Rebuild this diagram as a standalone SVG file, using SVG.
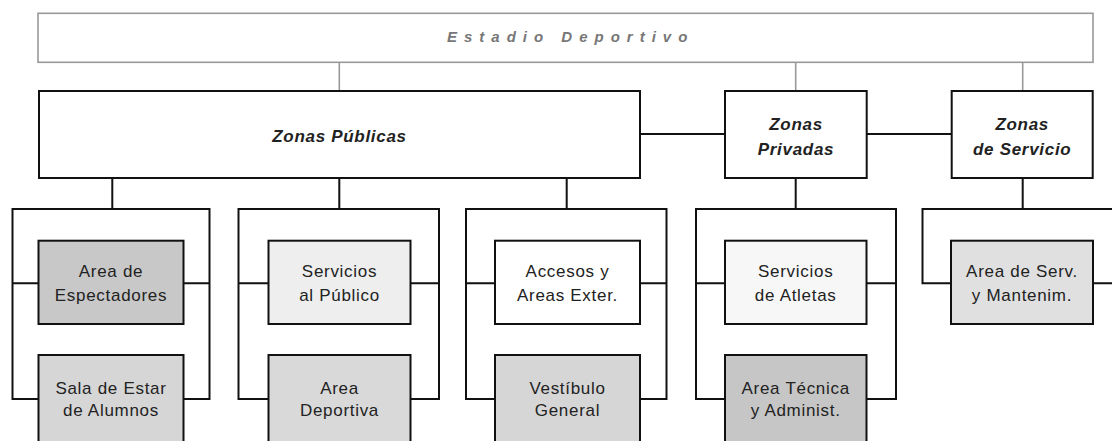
<svg xmlns="http://www.w3.org/2000/svg" width="1112" height="441" viewBox="0 0 1112 441">
<style>
.bg{fill:#ffffff}
.top{fill:#ffffff;stroke:#999999;stroke-width:1.6}
.gl{fill:none;stroke:#999999;stroke-width:1.6}
.bl{fill:none;stroke:#111111;stroke-width:2}
.zone{fill:#ffffff;stroke:#111111;stroke-width:2}
.box{stroke:#111111;stroke-width:2}
.title{font-family:"Liberation Sans",Arial,sans-serif;font-size:15px;font-weight:bold;font-style:italic;fill:#777777;letter-spacing:7px}
.zt{font-family:"Liberation Sans",Arial,sans-serif;font-size:17px;font-weight:bold;font-style:italic;fill:#222222;letter-spacing:0.7px;text-anchor:middle}
.lt{font-family:"Liberation Sans",Arial,sans-serif;font-size:17px;fill:#222222;letter-spacing:0.7px;text-anchor:middle}
</style>
<rect class="bg" x="0" y="0" width="1112" height="441"/>
<g id="connectors">
<path class="gl" d="M339.3 62.3V91M795.7 62.3V91M1022.7 62.3V91"/>
<path class="bl" d="M640 134H725M866.7 134H951.7"/>
<path class="bl" d="M112.3 178V209M339.3 178V209M566.7 178V209M795.7 178V209M1022.7 178V209"/>
<path class="bl" d="M39 283.3H12.5V209H209.5V399H183M183 283.3H209.5M39 399H12.5V283.3"/>
<path class="bl" d="M268.5 283.3H238.5V209H439V399H410.5M410.5 283.3H439M268.5 399H238.5V283.3"/>
<path class="bl" d="M495 283.3H466V209H666.5V399H640M640 283.3H666.5M495 399H466V283.3"/>
<path class="bl" d="M725 283.3H696V209H896V399H866.5M866.5 283.3H896M725 399H696V283.3"/>
<path class="bl" d="M951 283.3H922.5V209H1120M1093 283.3H1120"/>
</g>
<g id="estadio">
<rect class="top" x="38" y="13.3" width="1055" height="49"/>
<text class="title" x="447" y="41.5">Estadio Deportivo</text>
</g>
<g id="zonas-publicas">
<rect class="zone" x="39" y="91" width="601" height="87"/>
<text class="zt" x="339.5" y="141.5">Zonas Públicas</text>
</g>
<g id="zonas-privadas">
<rect class="zone" x="725" y="91" width="141.7" height="87"/>
<text class="zt" x="796" y="130">Zonas</text>
<text class="zt" x="796" y="155">Privadas</text>
</g>
<g id="zonas-servicio">
<rect class="zone" x="951.7" y="91" width="141" height="87"/>
<text class="zt" x="1022.2" y="130">Zonas</text>
<text class="zt" x="1022.2" y="155">de Servicio</text>
</g>
<g id="area-espectadores">
<rect class="box" x="38.5" y="240.7" width="145" height="83.3" fill="#c8c8c8"/>
<text class="lt" x="111" y="276.5">Area de</text>
<text class="lt" x="111" y="301">Espectadores</text>
</g>
<g id="sala-estar">
<rect class="box" x="38.5" y="355" width="145" height="92" fill="#d6d6d6"/>
<text class="lt" x="111" y="394">Sala de Estar</text>
<text class="lt" x="111" y="416">de Alumnos</text>
</g>
<g id="servicios-publico">
<rect class="box" x="268.5" y="240.7" width="142" height="83.3" fill="#eeeeee"/>
<text class="lt" x="339.5" y="276.5">Servicios</text>
<text class="lt" x="339.5" y="301">al Público</text>
</g>
<g id="area-deportiva">
<rect class="box" x="268.5" y="355" width="142" height="92" fill="#d9d9d9"/>
<text class="lt" x="339.5" y="394">Area</text>
<text class="lt" x="339.5" y="416">Deportiva</text>
</g>
<g id="accesos">
<rect class="box" x="495" y="240.7" width="145" height="83.3" fill="#ffffff"/>
<text class="lt" x="567.5" y="276.5">Accesos y</text>
<text class="lt" x="567.5" y="301">Areas Exter.</text>
</g>
<g id="vestibulo">
<rect class="box" x="495" y="355" width="145" height="92" fill="#d6d6d6"/>
<text class="lt" x="567.5" y="394">Vestíbulo</text>
<text class="lt" x="567.5" y="416">General</text>
</g>
<g id="servicios-atletas">
<rect class="box" x="725" y="240.7" width="141.5" height="83.3" fill="#f7f7f7"/>
<text class="lt" x="795.7" y="276.5">Servicios</text>
<text class="lt" x="795.7" y="301">de Atletas</text>
</g>
<g id="area-tecnica">
<rect class="box" x="725" y="355" width="141.5" height="92" fill="#c6c6c6"/>
<text class="lt" x="795.7" y="394">Area Técnica</text>
<text class="lt" x="795.7" y="416">y Administ.</text>
</g>
<g id="area-serv">
<rect class="box" x="951" y="240.7" width="142" height="83.3" fill="#e0e0e0"/>
<text class="lt" x="1022" y="276.5">Area de Serv.</text>
<text class="lt" x="1022" y="301">y Mantenim.</text>
</g>
</svg>
